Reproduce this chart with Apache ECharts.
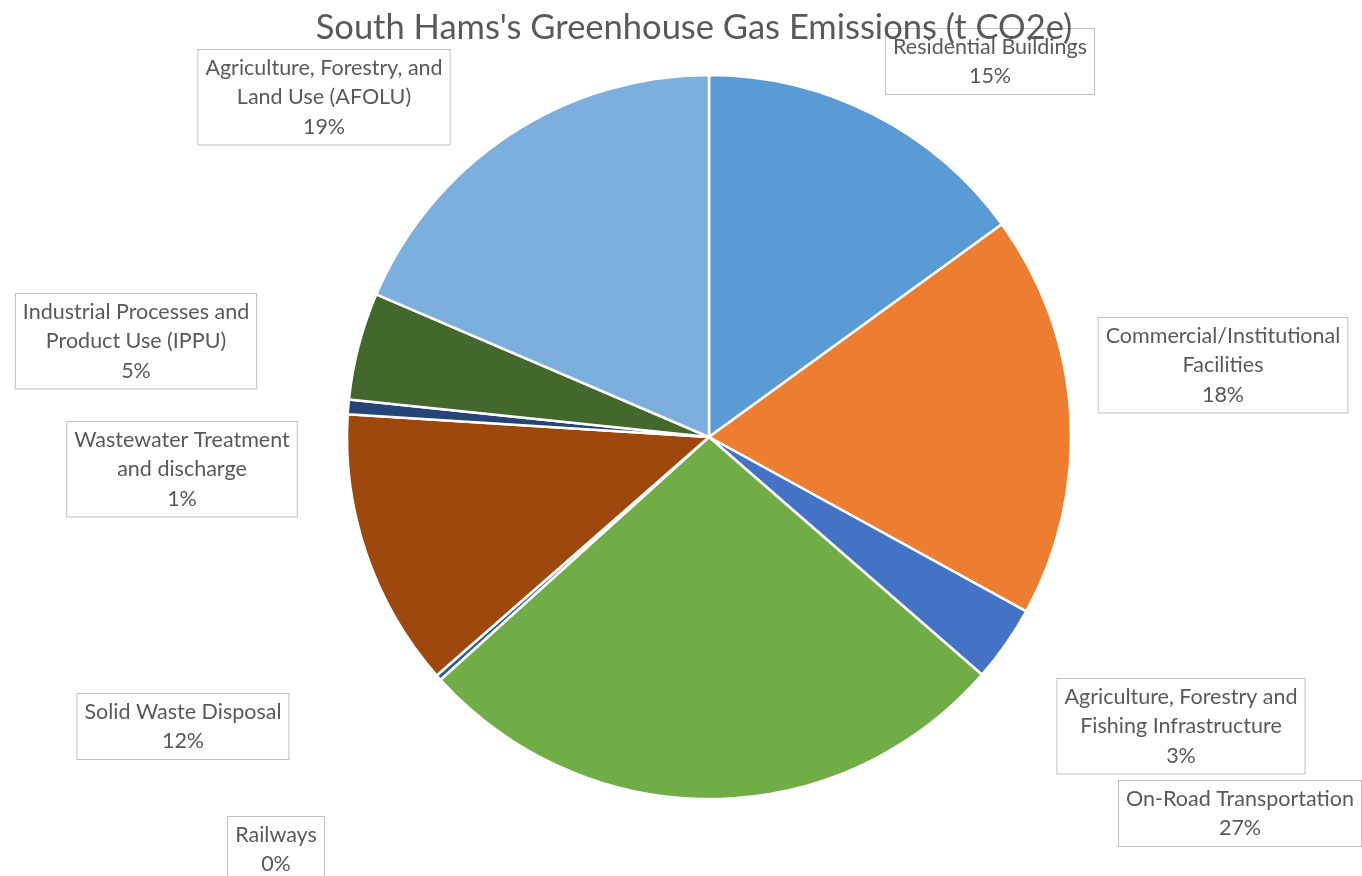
<!DOCTYPE html>
<html>
<head>
<meta charset="utf-8">
<title>South Hams's Greenhouse Gas Emissions (t CO2e)</title>
<script src="https://cdn.jsdelivr.net/npm/echarts@6/dist/echarts.min.js"></script>
<style>
  html, body { margin: 0; padding: 0; background: #ffffff; }
  #chart { width: 1362px; height: 876px; }
</style>
</head>
<body>
<div id="chart"></div>
<script>
// Emission sectors, clockwise from 12 o'clock (line breaks as shown in the labels)
const CATEGORIES = [
  'Residential Buildings',
  'Commercial/Institutional\nFacilities',
  'Agriculture, Forestry and\nFishing Infrastructure',
  'On-Road Transportation',
  'Railways',
  'Solid Waste Disposal',
  'Wastewater Treatment\nand discharge',
  'Industrial Processes and\nProduct Use (IPPU)',
  'Agriculture, Forestry, and\nLand Use (AFOLU)'
];

// Share of total emissions per sector (per cent of t CO2e)
const VALUES = [15.0, 18.0, 3.4, 26.9, 0.25, 12.45, 0.65, 4.8, 18.55];

// Office-theme slice colours
const COLORS = ['#5B9BD5', '#ED7D31', '#4472C4', '#70AD47', '#255E91',
                '#9E480E', '#264478', '#43682B', '#7CAFDD'];

// Data-label box anchors: top-centre of each box, in pixels
const LABEL_ANCHORS = [
  [990, 29], [1223, 318], [1181, 679], [1240, 781], [276, 817],
  [183, 694], [182, 422], [136, 294], [324, 50]
];

const TOTAL = VALUES.reduce((a, b) => a + b, 0);
const FONT = 'Lato, "Open Sans", sans-serif';

const chart = echarts.init(document.getElementById('chart'), null, { renderer: 'canvas' });

chart.setOption({
  animation: false,
  backgroundColor: '#ffffff',
  title: {
    text: "South Hams's Greenhouse Gas Emissions (t CO2e)",
    left: 689,
    textAlign: 'center',
    top: 5,
    z: 10,
    textStyle: {
      fontFamily: FONT,
      fontSize: 34.5,
      fontWeight: 'normal',
      color: '#595959'
    }
  },
  series: [{
    type: 'pie',
    center: [709, 437],
    radius: 362,
    startAngle: 90,
    clockwise: true,
    avoidLabelOverlap: false,
    data: CATEGORIES.map((name, i) => ({
      name: name,
      value: VALUES[i],
      itemStyle: { color: COLORS[i] }
    })),
    itemStyle: { borderColor: '#ffffff', borderWidth: 2.5 },
    label: {
      show: true,
      position: 'outside',
      formatter: p => p.name + '\n' + Math.round(p.value / TOTAL * 100) + '%',
      fontFamily: FONT,
      fontSize: 21.5,
      lineHeight: 29.5,
      color: '#595959',
      align: 'center',
      backgroundColor: '#ffffff',
      borderColor: '#BFBFBF',
      borderWidth: 1,
      padding: [3, 7, 3, 7]
    },
    labelLine: { show: false },
    labelLayout: p => {
      const a = LABEL_ANCHORS[p.dataIndex];
      return { x: a[0], y: a[1], align: 'center', verticalAlign: 'top' };
    },
    emphasis: { disabled: true }
  }]
});
</script>
</body>
</html>
